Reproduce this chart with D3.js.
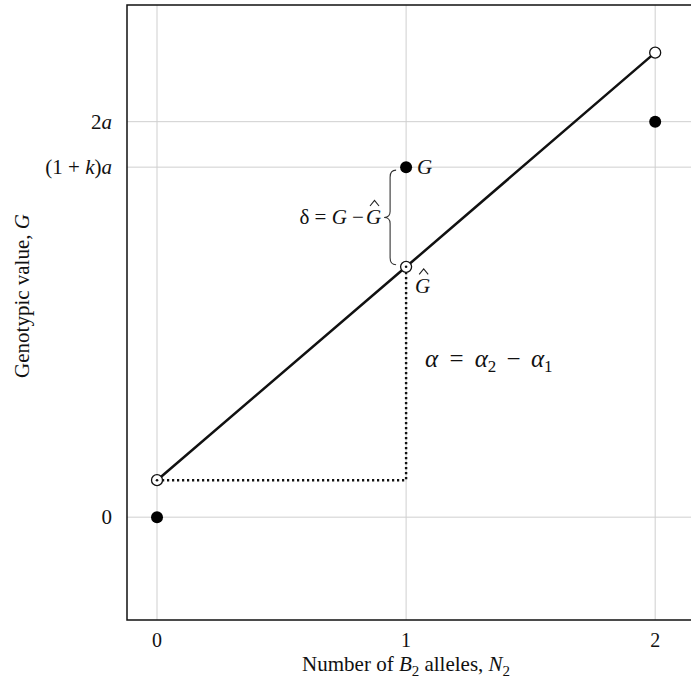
<!DOCTYPE html>
<html><head><meta charset="utf-8">
<script src="https://cdn.jsdelivr.net/npm/d3@7"></script>
<style>body{margin:0;background:#fff}svg{display:block}text{font-family:"Liberation Serif","DejaVu Serif",serif;fill:#111}</style>
</head><body><svg id="c" width="691" height="685"></svg>
<script>
const alleles = [0, 1, 2];
const genotypicValues = [0, 1.77, 2];
const regressionValues = [0.187, 1.266, 2.349];
const xTicks = [0, 1, 2];
const yTicks = [0, 1.77, 2];
const yTickLabels = [["0"], ["(1 + ", "k", ")", "a"], ["2", "a"]];
const yTickItalic = [[false], [false, true, false, true], [false, true]];

const svg = d3.select("#c");
const x = d3.scaleLinear().domain([-0.1205, 2.2]).range([127, 705]);
const y = d3.scaleLinear().domain([-0.52, 2.59]).range([620, 5]);

// grid
svg.append("g").selectAll("line").data(xTicks).join("line")
  .attr("x1", d => x(d)).attr("x2", d => x(d)).attr("y1", y(2.59)).attr("y2", y(-0.52))
  .attr("stroke", "#cfcfcf").attr("stroke-width", 1);
svg.append("g").selectAll("line").data(yTicks).join("line")
  .attr("x1", x(-0.1205)).attr("x2", 691).attr("y1", d => y(d)).attr("y2", d => y(d))
  .attr("stroke", "#cfcfcf").attr("stroke-width", 1);

// frame
svg.append("path").attr("d", `M691,${y(2.59)}H${x(-0.1205)}V${y(-0.52)}H691`)
  .attr("fill", "none").attr("stroke", "#111").attr("stroke-width", 1.5);

// y tick labels
yTicks.forEach((t, i) => {
  const tx = svg.append("text").attr("x", 112).attr("y", y(t) + 7).attr("text-anchor", "end").attr("font-size", 21);
  yTickLabels[i].forEach((s, j) => tx.append("tspan").text(s).attr("font-style", yTickItalic[i][j] ? "italic" : "normal"));
});
// x tick labels
svg.append("g").selectAll("text").data(xTicks).join("text")
  .attr("x", d => x(d)).attr("y", 647).attr("text-anchor", "middle").attr("font-size", 20).text(d => d);

// axis titles
const xt = svg.append("text").attr("x", x(1)).attr("y", 671).attr("text-anchor", "middle").attr("font-size", 21);
xt.append("tspan").text("Number of ");
xt.append("tspan").text("B").attr("font-style", "italic");
xt.append("tspan").text("2").attr("font-size", 15).attr("dy", 5);
xt.append("tspan").text(" alleles, ").attr("dy", -5);
xt.append("tspan").text("N").attr("font-style", "italic");
xt.append("tspan").text("2").attr("font-size", 15).attr("dy", 5);

const yt = svg.append("text").attr("transform", `translate(29,${296}) rotate(-90)`).attr("text-anchor", "middle").attr("font-size", 21);
yt.append("tspan").text("Genotypic value, ");
yt.append("tspan").text("G").attr("font-style", "italic");

// dotted lines
svg.append("path")
  .attr("d", `M${x(0)},${y(regressionValues[0])}H${x(1)}V${y(regressionValues[1])}`)
  .attr("fill", "none").attr("stroke", "#111").attr("stroke-width", 2.4).attr("stroke-dasharray", "2.2,2.8");

// regression line
const line = d3.line().x((d, i) => x(alleles[i])).y(d => y(d));
svg.append("path").datum(regressionValues).attr("d", line)
  .attr("fill", "none").attr("stroke", "#111").attr("stroke-width", 2.5);

// filled dots
svg.append("g").selectAll("circle").data(genotypicValues).join("circle")
  .attr("cx", (d, i) => x(alleles[i])).attr("cy", d => y(d)).attr("r", 6).attr("fill", "#000");
// open circles
svg.append("g").selectAll("circle").data(regressionValues).join("circle")
  .attr("cx", (d, i) => x(alleles[i])).attr("cy", d => y(d)).attr("r", 5.5)
  .attr("fill", "#fff").attr("stroke", "#111").attr("stroke-width", 1.3);
svg.append("circle").attr("cx", x(0)).attr("cy", y(regressionValues[0])).attr("r", 1.3).attr("fill", "#111");
svg.append("circle").attr("cx", x(1)).attr("cy", y(regressionValues[1])).attr("r", 1.3).attr("fill", "#111");

// hat helper (drawn as a path)
function hat(cx, cy) {
  svg.append("path").attr("d", `M${cx - 4.5},${cy + 3.5} L${cx},${cy - 2} L${cx + 4.5},${cy + 3.5}`)
    .attr("fill", "none").attr("stroke", "#222").attr("stroke-width", 1.1);
}

// brace
const bx = x(1) - 16, y1 = y(genotypicValues[1]) + 3, y2 = y(regressionValues[1]) - 2, ym = (y1 + y2) / 2, w = 6;
svg.append("path")
  .attr("d", `M${bx + w},${y1} Q${bx},${y1} ${bx},${y1 + 7} L${bx},${ym - 6} Q${bx},${ym} ${bx - w},${ym} Q${bx},${ym} ${bx},${ym + 6} L${bx},${y2 - 7} Q${bx},${y2} ${bx + w},${y2}`)
  .attr("fill", "none").attr("stroke", "#333").attr("stroke-width", 1.1);

// delta label
const gh = svg.append("text").attr("x", bx - 9).attr("y", ym + 7).attr("text-anchor", "end").attr("font-size", 21).attr("font-style", "italic").text("G");
const ghb = gh.node().getBBox();
hat(ghb.x + ghb.width / 2 + 1, ghb.y - 3);
const dl = svg.append("text").attr("x", ghb.x - 2).attr("y", ym + 7).attr("text-anchor", "end").attr("font-size", 21);
dl.append("tspan").text("δ = ");
dl.append("tspan").text("G").attr("font-style", "italic");
dl.append("tspan").text(" −");

// G labels
svg.append("text").attr("x", x(1) + 11).attr("y", y(genotypicValues[1]) + 7).attr("font-size", 21).attr("font-style", "italic").text("G");
const g2 = svg.append("text").attr("x", x(1) + 9).attr("y", y(regressionValues[1]) + 26).attr("font-size", 21).attr("font-style", "italic").text("G");
const g2b = g2.node().getBBox();
hat(g2b.x + g2b.width / 2 + 1, g2b.y - 3);

// alpha label
const al = svg.append("text").attr("x", 425).attr("y", 367).attr("font-size", 25).attr("font-family", "'DejaVu Serif',serif");
al.append("tspan").text("α").attr("font-style", "italic");
al.append("tspan").text(" = ").attr("dx", 5);
al.append("tspan").text("α").attr("font-style", "italic").attr("dx", 5);
al.append("tspan").text("2").attr("font-size", 17).attr("dy", 5);
al.append("tspan").text(" − ").attr("dy", -5).attr("dx", 4);
al.append("tspan").text("α").attr("font-style", "italic").attr("dx", 4);
al.append("tspan").text("1").attr("font-size", 17).attr("dy", 5);
</script></body></html>
